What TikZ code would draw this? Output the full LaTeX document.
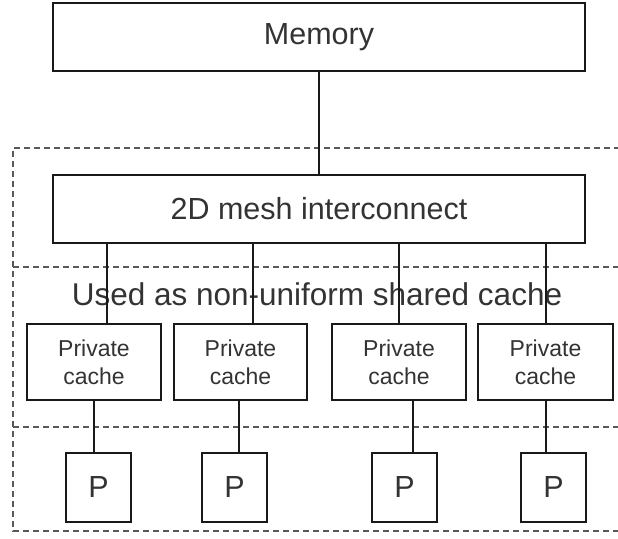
\documentclass[tikz,border=0pt]{standalone}
\usepackage{fontspec}
\setmainfont{Liberation Sans}
\begin{document}
\begin{tikzpicture}[x=1pt,y=-1pt,
  box/.style={draw=black!90, line width=2.3pt, rectangle, inner sep=0pt, text=black!80,
    font=\fontsize{30.5}{34}\selectfont},
  cbox/.style={box, align=center, font=\fontsize{23}{28}\selectfont},
  link/.style={draw=black!90, line width=2.3pt},
  region/.style={draw=black!65, line width=1.4pt, dash pattern=on 6pt off 4pt}]
\useasboundingbox (0,0) rectangle (618,538);
\node[box, minimum width=532pt, minimum height=68pt] (mem) at (319,37) {Memory};
\node[box, minimum width=532pt, minimum height=68pt] (mesh) at (319,209) {2D mesh interconnect};
\node[cbox, minimum width=134pt, minimum height=76pt] (c1) at (94,362) {Private\\cache};
\node[cbox, minimum width=133pt, minimum height=76pt] (c2) at (240.5,362) {Private\\cache};
\node[cbox, minimum width=134pt, minimum height=76pt] (c3) at (399,362) {Private\\cache};
\node[cbox, minimum width=135pt, minimum height=76pt] (c4) at (545.5,362) {Private\\cache};
\node[box, minimum width=65pt, minimum height=69pt] (p1) at (98.5,487.5) {P};
\node[box, minimum width=65pt, minimum height=69pt] (p2) at (234.5,487.5) {P};
\node[box, minimum width=65pt, minimum height=69pt] (p3) at (404.5,487.5) {P};
\node[box, minimum width=65pt, minimum height=69pt] (p4) at (553.5,487.5) {P};
% dashed regions
\coordinate (tr) at (620,148);
\coordinate (tl) at (13,148);
\coordinate (bl) at (13,531);
\coordinate (br) at (620,531);
\coordinate (m1l) at (13,267);
\coordinate (m1r) at (620,267);
\coordinate (m2l) at (13,427);
\coordinate (m2r) at (620,427);
\draw[region] (tr) -- (tl) -- (bl) -- (br);
\draw[region] (m1l) -- (m1r);
\draw[region] (m2l) -- (m2r);
\node[text=black!80, font=\fontsize{31.5}{34}\selectfont, inner sep=0pt] (used) at (317,294) {Used as non-uniform shared cache};
% connectors
\draw[link] (mem.south) -- (mesh.north);
\draw[link] (mesh.south -| 107,0) -- (c1.north -| 107,0);
\draw[link] (mesh.south -| 253,0) -- (c2.north -| 253,0);
\draw[link] (mesh.south -| 399,0) -- (c3.north -| 399,0);
\draw[link] (mesh.south -| 546,0) -- (c4.north -| 546,0);
\draw[link] (c1.south -| 94,0) -- (p1.north -| 94,0);
\draw[link] (c2.south -| 239,0) -- (p2.north -| 239,0);
\draw[link] (c3.south -| 413,0) -- (p3.north -| 413,0);
\draw[link] (c4.south -| 546,0) -- (p4.north -| 546,0);
\end{tikzpicture}
\end{document}
